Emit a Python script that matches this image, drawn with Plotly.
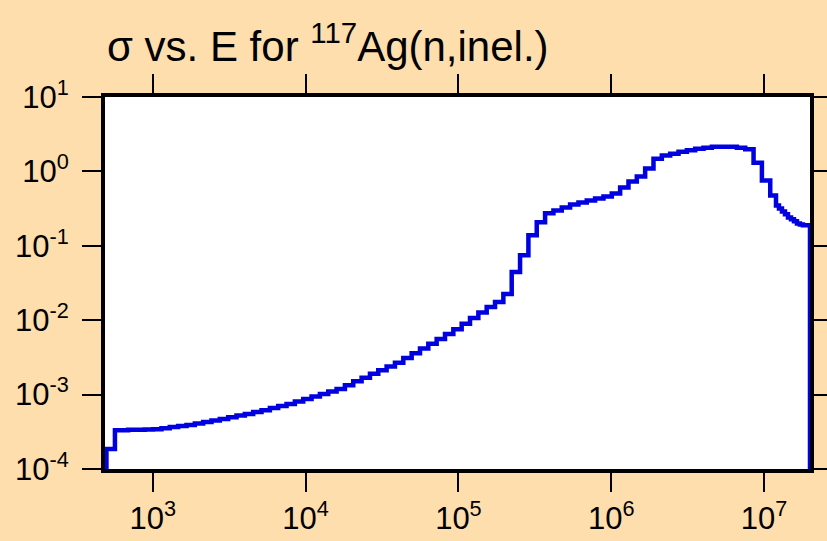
import plotly.graph_objects as go

# Incident neutron energy (eV) at the start of each step
energy_ev = [
    497, 497, 565, 689, 781, 886, 1004, 1139, 1291, 1464,
    1661, 1883, 2135, 2421, 2745, 3113, 3529, 4002, 4538, 5145,
    5834, 6615, 7501, 8505, 9645, 10937, 12400, 14062, 15944, 18079,
    20500, 23246, 26363, 29891, 33894, 38435, 43583, 49421, 56036, 63533,
    72039, 81690, 92633, 105026, 119093, 135039, 153123, 173625, 196876, 223250,
    253145, 287078, 325530, 369130, 418570, 474630, 538200, 610290, 691830, 784590,
    889670, 1008800, 1143900, 1297100, 1470800, 1667800, 1891100, 2144300, 2431800, 2757400,
    3126100, 3544800, 4019800, 4557900, 5168200, 5860300, 6645100, 7535100, 8543300, 9687500,
    10985000, 11980000, 12530000, 13110000, 13720000, 14350000, 15020000, 15710000, 16430000, 17190000,
    17980000, 20000000,
]

# Cross section (barns) on each step
sigma_b = [
    1e-6, 1.85e-4, 3.32e-4, 3.36e-4, 3.38e-4, 3.40e-4, 3.43e-4, 3.54e-4, 3.66e-4, 3.77e-4,
    3.90e-4, 4.08e-4, 4.28e-4, 4.48e-4, 4.70e-4, 4.96e-4, 5.22e-4, 5.50e-4, 5.82e-4, 6.18e-4,
    6.58e-4, 7.00e-4, 7.46e-4, 8.06e-4, 8.73e-4, 9.43e-4, 1.02e-3, 1.10e-3, 1.19e-3, 1.34e-3,
    1.51e-3, 1.69e-3, 1.90e-3, 2.13e-3, 2.39e-3, 2.68e-3, 3.10e-3, 3.60e-3, 4.17e-3, 4.84e-3,
    5.61e-3, 6.50e-3, 7.55e-3, 8.95e-3, 1.07e-2, 1.27e-2, 1.51e-2, 1.76e-2, 2.25e-2, 4.44e-2,
    7.48e-2, 0.139, 0.207, 0.273, 0.299, 0.328, 0.360, 0.383, 0.407, 0.433,
    0.460, 0.505, 0.607, 0.731, 0.852, 1.09, 1.48, 1.63, 1.73, 1.84,
    1.93, 2.02, 2.08, 2.15, 2.15, 2.15, 2.08, 1.99, 1.31, 0.753,
    0.475, 0.349, 0.318, 0.290, 0.265, 0.241, 0.227, 0.213, 0.200, 0.194,
    0.189, 1e-6,
]
assert len(energy_ev) == len(sigma_b)

x_tick_vals = [1e3, 1e4, 1e5, 1e6, 1e7]
x_tick_text = ["10<sup>3</sup>", "10<sup>4</sup>", "10<sup>5</sup>", "10<sup>6</sup>", "10<sup>7</sup>"]
y_tick_vals = [1e-4, 1e-3, 1e-2, 1e-1, 1e0, 1e1]
y_tick_text = ["10<sup>-4</sup>", "10<sup>-3</sup>", "10<sup>-2</sup>", "10<sup>-1</sup>", "10<sup>0</sup>", "10<sup>1</sup>"]

title_text = "σ vs. E for <sup>117</sup>Ag(n,inel.)"

FONT = "Liberation Sans, Arial, Helvetica, sans-serif"

fig = go.Figure()
fig.add_trace(go.Scatter(
    x=energy_ev, y=sigma_b, mode="lines",
    line=dict(shape="hv", color="rgb(0,0,225)", width=4.5),
    showlegend=False, hoverinfo="skip",
))

axis_common = dict(
    type="log", showline=True, linewidth=4, linecolor="black", mirror="ticks",
    ticks="outside", ticklen=19, tickwidth=2, tickcolor="black",
    showgrid=False, zeroline=False, automargin=False,
    tickfont=dict(family=FONT, size=31, color="black"),
)

fig.update_layout(
    template="none",
    width=827, height=541, autosize=False,
    paper_bgcolor="#FFDEAD", plot_bgcolor="#FFFFFF",
    margin=dict(l=105, r=17, t=97, b=72, autoexpand=False),
    title=dict(text=title_text, font=dict(family=FONT, size=42, color="black"),
               xref="container", yref="container", x=107 / 827, xanchor="left",
               y=1 - 46 / 541, yanchor="middle", automargin=False),
    xaxis=dict(range=[2.687, 7.301], tickvals=x_tick_vals, ticktext=x_tick_text, **axis_common),
    yaxis=dict(range=[-4, 1], tickvals=y_tick_vals, ticktext=y_tick_text,
               ticklabelstandoff=7, **axis_common),
)

fig.write_html(
    "out.html",
    config={"displayModeBar": False},
    post_script="document.body.style.margin='0';document.body.style.overflow='hidden';",
)
